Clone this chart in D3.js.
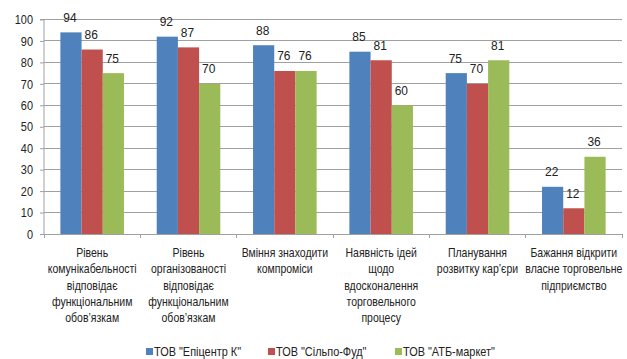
<!DOCTYPE html>
<html><head><meta charset="utf-8">
<script src="https://cdn.jsdelivr.net/npm/d3@7"></script>
<style>
body{margin:0;background:#fff;}
svg{display:block;}
text{font-family:"Liberation Sans","DejaVu Sans",sans-serif;fill:#222;}
</style></head>
<body><svg id="c" width="627" height="359"></svg>
<script>
const categories = [
  ["Рівень","комунікабельності","відповідає","функціональним","обов’язкам"],
  ["Рівень","організованості","відповідає","функціональним","обов’язкам"],
  ["Вміння знаходити","компроміси"],
  ["Наявність ідей","щодо","вдосконалення","торговельного","процесу"],
  ["Планування","розвитку кар’єри"],
  ["Бажання відкрити","власне торговельне","підприємство"]
];
const seriesNames = ["ТОВ \"Епіцентр К\"","ТОВ \"Сільпо-Фуд\"","ТОВ \"АТБ-маркет\""];
const epicentr = [94,92,88,85,75,22];
const silpo = [86,87,76,81,70,12];
const atb = [75,70,76,60,81,36];
const yTicks = [0,10,20,30,40,50,60,70,80,90,100];
const colors = ["#4F81BD","#C0504D","#9BBB59"];

(function(){
const series = [epicentr, silpo, atb];
const svg = d3.select("#c");
const pl = 44, pr = 622, pt = 19.5, pb = 234;
const sx = 0.84;
const x = d3.scaleBand().domain(d3.range(categories.length)).range([pl,pr]).paddingInner(0.34).paddingOuter(0.17);
const y = d3.scaleLinear().domain([0,100]).range([pb,pt]);
const xs = d3.scaleBand().domain(d3.range(3)).range([0,x.bandwidth()]);
const band = (pr-pl)/categories.length;

svg.append("g").selectAll("line").data(yTicks.filter(d=>d>0)).join("line")
  .attr("x1",pl).attr("x2",pr).attr("y1",d=>y(d)).attr("y2",d=>y(d))
  .attr("stroke","#a0a0a0").attr("stroke-width",1).attr("shape-rendering","crispEdges");

const ya = svg.append("g").attr("transform",`translate(${pl},0)`)
  .call(d3.axisLeft(y).tickValues(yTicks).tickSize(4).tickPadding(7));
ya.select(".domain").attr("stroke","#a0a0a0").attr("d",`M-4,${pt}H0V${pb}`);
ya.selectAll(".tick line").attr("stroke","#a0a0a0");
ya.selectAll(".tick text").attr("font-size",13).attr("font-family","'Liberation Sans',sans-serif").attr("fill","#222")
  .attr("x",0).attr("transform",`translate(-11,0) scale(${sx},1)`);

svg.append("line").attr("x1",pl).attr("x2",pr).attr("y1",pb).attr("y2",pb)
  .attr("stroke","#a0a0a0").attr("shape-rendering","crispEdges");
svg.append("g").selectAll("line").data(d3.range(categories.length+1)).join("line")
  .attr("x1",d=>pl+d*band).attr("x2",d=>pl+d*band).attr("y1",pb).attr("y2",pb+4)
  .attr("stroke","#a0a0a0").attr("shape-rendering","crispEdges");

series.forEach((vals,si)=>{
  const g = svg.append("g");
  g.selectAll("rect").data(vals).join("rect")
    .attr("x",(d,i)=>x(i)+xs(si)).attr("width",xs.bandwidth())
    .attr("y",d=>y(d)).attr("height",d=>pb-y(d))
    .attr("fill",colors[si]);
  g.selectAll("text").data(vals).join("text")
    .attr("transform",(d,i)=>`translate(${x(i)+xs(si)+xs.bandwidth()/2-1},${y(d)-10.5}) scale(0.92,1)`)
    .attr("text-anchor","middle").attr("font-size",13)
    .text(d=>d);
});

categories.forEach((lines,i)=>{
  const t = svg.append("text").attr("text-anchor","middle").attr("font-size",12.5)
    .attr("transform",`translate(${pl+band*(i+0.5)},0) scale(${sx},1)`);
  lines.forEach((ln,j)=>{
    t.append("tspan").attr("x",0).attr("y",257+j*16.3).text(ln);
  });
});

const legX = [146,268,395];
seriesNames.forEach((n,i)=>{
  svg.append("rect").attr("x",legX[i]).attr("y",348).attr("width",7).attr("height",7).attr("fill",colors[i]);
  svg.append("text").attr("transform",`translate(${legX[i]+8},356) scale(${sx},1)`).attr("font-size",13).text(n);
});
})();
</script></body></html>
